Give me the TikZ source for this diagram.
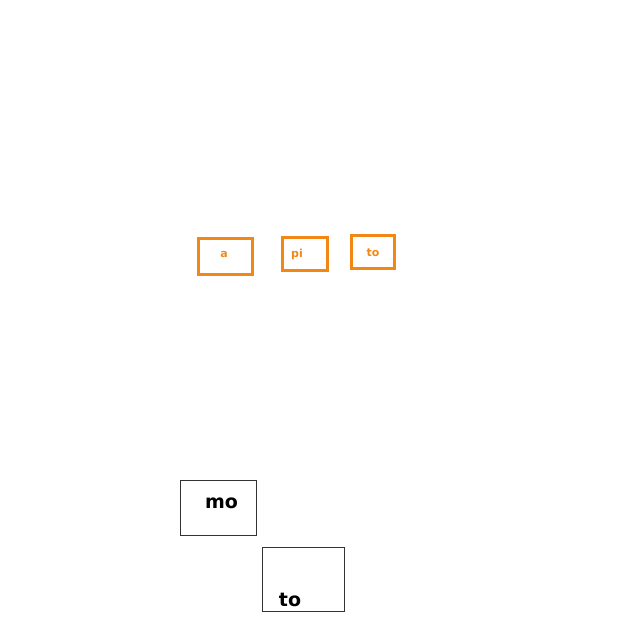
\documentclass[tikz,border=0pt]{standalone}
\usepackage{fontspec}
\setmainfont{DejaVu Sans}
\definecolor{boxorange}{RGB}{242,135,22}
\begin{document}
\begin{tikzpicture}[x=1pt,y=-1pt,
  obox/.style={draw=boxorange,line width=3pt,inner sep=0pt},
  kbox/.style={draw=black!80,line width=0.9pt,inner sep=0pt},
  otext/.style={text=boxorange,font=\fontsize{11}{13}\selectfont\bfseries,anchor=base,inner sep=0pt},
  ktext/.style={text=black,font=\fontsize{19}{22}\selectfont\bfseries,anchor=base,inner sep=0pt}]
\useasboundingbox (0,0) rectangle (640,640);
\node[obox,minimum width=54pt,minimum height=36pt] (ba) at (225,256) {};
\node[obox,minimum width=45pt,minimum height=33pt] (bpi) at (304.5,253.5) {};
\node[obox,minimum width=43pt,minimum height=33pt] (bto) at (372.5,251.5) {};
\node[otext] (ta) at (224,257.5) {a};
\node[otext] (tpi) at (297,257.5) {pi};
\node[otext] (tto) at (373,256.5) {to};
\node[kbox,minimum width=76pt,minimum height=55pt] (bmo) at (218,507.5) {};
\node[kbox,minimum width=82pt,minimum height=64pt] (bto2) at (303,579) {};
\node[ktext] (tmo) at (221.5,508.5) {mo};
\node[ktext] (tto2) at (290,606) {to};
\end{tikzpicture}
\end{document}
